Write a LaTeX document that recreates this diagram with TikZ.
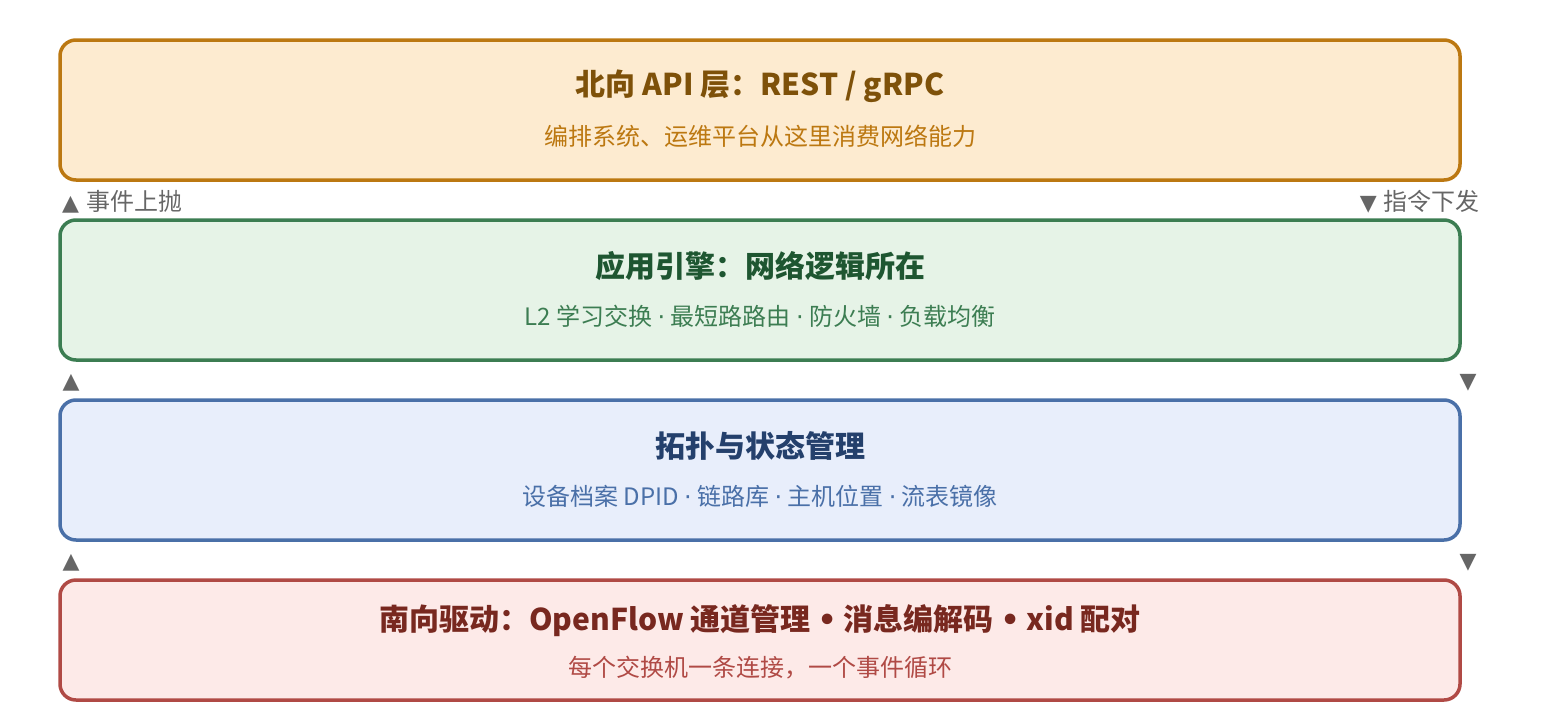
\documentclass[tikz,border=0pt]{standalone}
\usepackage{fontspec}
\setmainfont{Noto Sans CJK SC}
\newfontfamily\symfont{DejaVu Sans}
\newcommand{\md}{{\symfont ·}}
\newcommand{\bl}{{\symfont •}}
\definecolor{oFill}{HTML}{FDEBD0}
\definecolor{oLine}{HTML}{BC7811}
\definecolor{oTitle}{HTML}{7E5109}
\definecolor{gFill}{HTML}{E6F3E7}
\definecolor{gLine}{HTML}{3C7D52}
\definecolor{gTitle}{HTML}{1E5631}
\definecolor{bFill}{HTML}{E8EEFB}
\definecolor{bLine}{HTML}{4A70A8}
\definecolor{bTitle}{HTML}{24406C}
\definecolor{rFill}{HTML}{FDEAE8}
\definecolor{rLine}{HTML}{B04A45}
\definecolor{rTitle}{HTML}{78281F}
\definecolor{lab}{HTML}{666666}
\tikzset{
  layer/.style={line width=3.5pt, rounded corners=16pt},
  ttl/.style={font=\fontsize{30}{34}\selectfont\bfseries, inner sep=0pt, anchor=center},
  sub/.style={font=\fontsize{24}{28}\selectfont, inner sep=0pt, anchor=center},
  lbl/.style={font=\fontsize{24}{28}\selectfont, text=lab, inner sep=0pt},
  tri/.style={font=\symfont\fontsize{22}{26}\selectfont, text=lab, inner sep=0pt},
}
\begin{document}
\begin{tikzpicture}[x=1pt,y=-1pt]
\useasboundingbox (0,0) rectangle (1560,720);
% layer 1
\draw[layer, draw=oLine, fill=oFill] (60,40) rectangle (1460,180);
\node[ttl, text=oTitle] (t1) at (760,86) {北向 API 层：REST / gRPC};
\node[sub, text=oLine] (s1) at (760,136) {编排系统、运维平台从这里消费网络能力};
% layer 2
\draw[layer, draw=gLine, fill=gFill] (60,220) rectangle (1460,360);
\node[ttl, text=gTitle] (t2) at (760,266) {应用引擎：网络逻辑所在};
\node[sub, text=gLine] (s2) at (760,316) {L2 学习交换 \md{} 最短路路由 \md{} 防火墙 \md{} 负载均衡};
% layer 3
\draw[layer, draw=bLine, fill=bFill] (60,400) rectangle (1460,540);
\node[ttl, text=bTitle] (t3) at (760,446) {拓扑与状态管理};
\node[sub, text=bLine] (s3) at (760,496) {设备档案 DPID \md{} 链路库 \md{} 主机位置 \md{} 流表镜像};
% layer 4
\draw[layer, draw=rLine, fill=rFill] (60,580) rectangle (1460,700);
\node[ttl, text=rTitle] (t4) at (760,621) {南向驱动：OpenFlow 通道管理 \bl{} 消息编解码 \bl{} xid 配对};
\node[sub, text=rLine] (s4) at (760,668) {每个交换机一条连接，一个事件循环};
% labels
\node[lbl, anchor=west] (up1) at (62,202) {{\symfont\fontsize{22}{26}\selectfont ▲}\hspace{7pt}事件上抛};
\node[lbl, anchor=east] (dn1) at (1480,202) {{\symfont\fontsize{22}{26}\selectfont ▼}\hspace{7pt}指令下发};
\node[tri] (up2) at (71,383) {▲};
\node[tri] (dn2) at (1468,383) {▼};
\node[tri] (up3) at (71,563) {▲};
\node[tri] (dn3) at (1468,563) {▼};
\end{tikzpicture}
\end{document}
